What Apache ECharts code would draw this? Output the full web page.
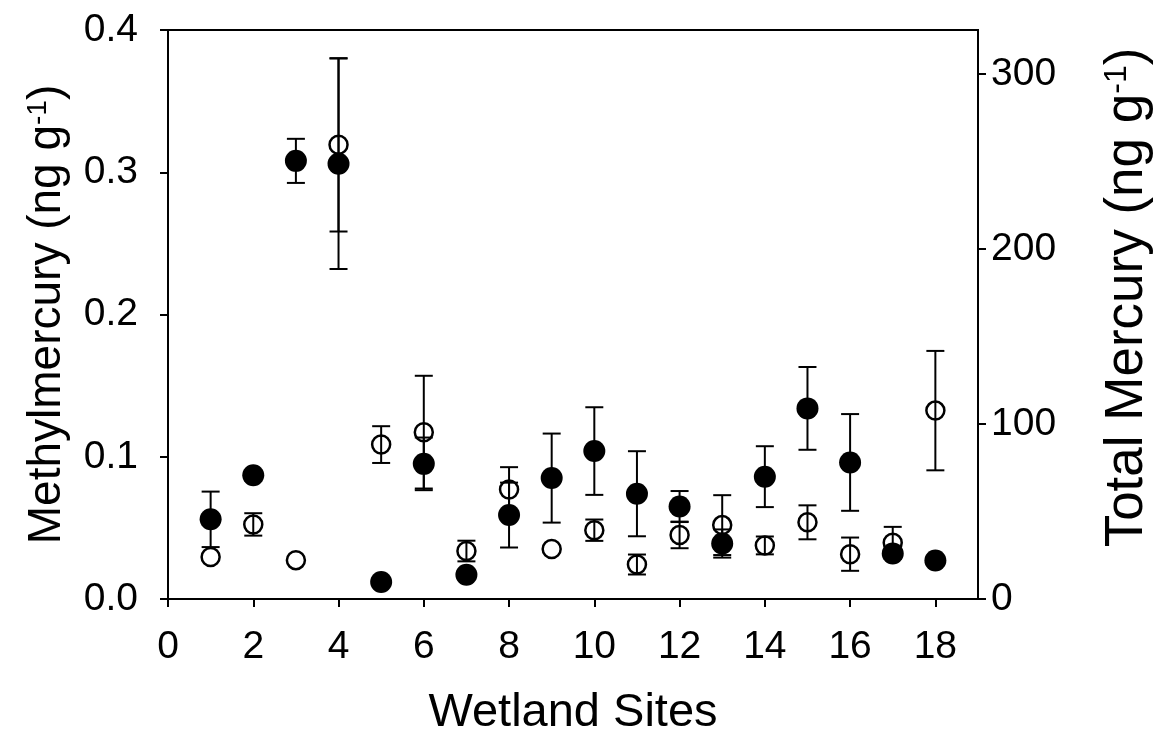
<!DOCTYPE html>
<html>
<head>
<meta charset="utf-8">
<title>Methylmercury and Total Mercury by Wetland Site</title>
<script src="https://cdn.jsdelivr.net/npm/echarts@6/dist/echarts.min.js"></script>
<style>
  html, body { margin: 0; padding: 0; background: #fff; }
  #chart { width: 1155px; height: 742px; }
</style>
</head>
<body>
<div id="chart"></div>
<script>
// Wetland site numbers
const sites = [1, 2, 3, 4, 5, 6, 7, 8, 9, 10, 11, 12, 13, 14, 15, 16, 17, 18];

// Methylmercury (ng g-1), filled circles, left axis; error = half-width of bar (null: no bar drawn)
const mehg    = [0.056, 0.087, 0.308, 0.306, 0.012, 0.095, 0.017, 0.059, 0.085, 0.104, 0.074, 0.065, 0.039, 0.086, 0.134, 0.096, 0.032, 0.027];
const mehgErr = [0.0195, null, 0.0155, 0.074, null, 0.0185, null, 0.0228, 0.0313, 0.0308, 0.0299, 0.0109, 0.0099, 0.0214, 0.0291, 0.034, null, null];

// Total mercury (ng g-1), open circles, right axis
const thg    = [24.0, 42.6, 22.2, 259.4, 88.2, 95.3, 27.4, 62.6, 28.5, 39.3, 19.7, 36.6, 42.2, 30.6, 43.8, 25.6, 32.1, 107.6];
const thgErr = [null, 6.4, null, 49.5, 10.5, 32.2, 5.9, 12.7, null, 6.1, 5.7, 7.6, 17.1, 5.1, 9.7, 9.5, 9.1, 34.1];

// Tick positions
const xTicks = [0, 2, 4, 6, 8, 10, 12, 14, 16, 18];
const leftTicks = [0, 0.1, 0.2, 0.3, 0.4];
const rightTicks = [0, 100, 200, 300];

const FONT = '"Liberation Sans", Arial, Helvetica, sans-serif';
const INK = '#000';

function errorBars(values, errs, yAxisIndex) {
  const data = [];
  sites.forEach((s, i) => {
    if (errs[i] != null) data.push([s, values[i] - errs[i], values[i] + errs[i]]);
  });
  return {
    type: 'custom',
    xAxisIndex: 0,
    yAxisIndex: yAxisIndex,
    data: data,
    encode: { x: 0, y: [1, 2] },
    z: 3,
    silent: true,
    renderItem: function (params, api) {
      const x = api.value(0);
      const lo = api.coord([x, api.value(1)]);
      const hi = api.coord([x, api.value(2)]);
      const half = 9;
      const st = { stroke: INK, lineWidth: 2 };
      return {
        type: 'group',
        children: [
          { type: 'line', shape: { x1: lo[0], y1: hi[1], x2: lo[0], y2: lo[1] }, style: st },
          { type: 'line', shape: { x1: lo[0] - half, y1: hi[1], x2: lo[0] + half, y2: hi[1] }, style: st },
          { type: 'line', shape: { x1: lo[0] - half, y1: lo[1], x2: lo[0] + half, y2: lo[1] }, style: st }
        ]
      };
    }
  };
}

const axisLineStyle = { color: INK, width: 2 };
const tickLabel = { fontSize: 39, color: INK, fontFamily: FONT };
const leftTitleRich = {
  t: { fontSize: 46, color: INK, fontFamily: FONT },
  s: { fontSize: 28, color: INK, fontFamily: FONT, verticalAlign: 'top' }
};
const rightTitleRich = {
  t: { fontSize: 53, color: INK, fontFamily: FONT },
  s: { fontSize: 32, color: INK, fontFamily: FONT, verticalAlign: 'top' }
};

const chart = echarts.init(document.getElementById('chart'), null, { renderer: 'canvas' });

chart.setOption({
  backgroundColor: '#fff',
  animation: false,
  grid: {
    left: 168, right: 177, top: 30, bottom: 143,
    outerBoundsMode: 'none',
    containLabel: false,
    show: true, borderColor: INK, borderWidth: 2, backgroundColor: 'transparent'
  },
  xAxis: {
    type: 'value',
    min: 0, max: 19, interval: 2,
    name: 'Wetland Sites',
    nameLocation: 'middle',
    nameGap: 91,
    nameTextStyle: { fontSize: 47, color: INK, fontFamily: FONT },
    axisLine: { show: true, lineStyle: axisLineStyle },
    axisTick: { show: true, inside: false, length: 8, lineStyle: axisLineStyle, customValues: xTicks },
    axisLabel: Object.assign({ margin: 29, customValues: xTicks }, tickLabel),
    splitLine: { show: false }
  },
  yAxis: [
    {
      type: 'value',
      position: 'left',
      min: 0, max: 0.4, interval: 0.1,
      name: '{t|Methylmercury (ng g}{s|-1}{t|)}',
      nameLocation: 'middle',
      nameRotate: 90,
      nameGap: 98,
      nameTextStyle: { rich: leftTitleRich },
      axisLine: { show: true, lineStyle: axisLineStyle },
      axisTick: { show: true, inside: false, length: 8, lineStyle: axisLineStyle, customValues: leftTicks },
      axisLabel: Object.assign({ margin: 30, customValues: leftTicks, formatter: v => v.toFixed(1) }, tickLabel),
      splitLine: { show: false }
    },
    {
      type: 'value',
      position: 'right',
      min: 0, max: 325, interval: 100,
      name: '{t|Total Mercury (ng g}{s|-1}{t|)}',
      nameLocation: 'middle',
      nameRotate: 90,
      nameGap: 123,
      nameTextStyle: { rich: rightTitleRich, padding: [0, 0, 0, 34] },
      axisLine: { show: true, lineStyle: axisLineStyle },
      axisTick: { show: true, inside: false, length: 8, lineStyle: axisLineStyle, customValues: rightTicks },
      axisLabel: Object.assign({ margin: 13, customValues: rightTicks }, tickLabel),
      splitLine: { show: false }
    }
  ],
  series: [
    {
      name: 'Total Mercury',
      type: 'scatter',
      yAxisIndex: 1,
      data: sites.map((s, i) => [s, thg[i]]),
      symbol: 'circle',
      symbolSize: 18,
      itemStyle: { color: '#fff', borderColor: INK, borderWidth: 2.5, opacity: 1 },
      z: 2,
      silent: true
    },
    errorBars(thg, thgErr, 1),
    errorBars(mehg, mehgErr, 0),
    {
      name: 'Methylmercury',
      type: 'scatter',
      yAxisIndex: 0,
      data: sites.map((s, i) => [s, mehg[i]]),
      symbol: 'circle',
      symbolSize: 22,
      itemStyle: { color: INK, opacity: 1 },
      z: 4,
      silent: true
    }
  ]
});
</script>
</body>
</html>
